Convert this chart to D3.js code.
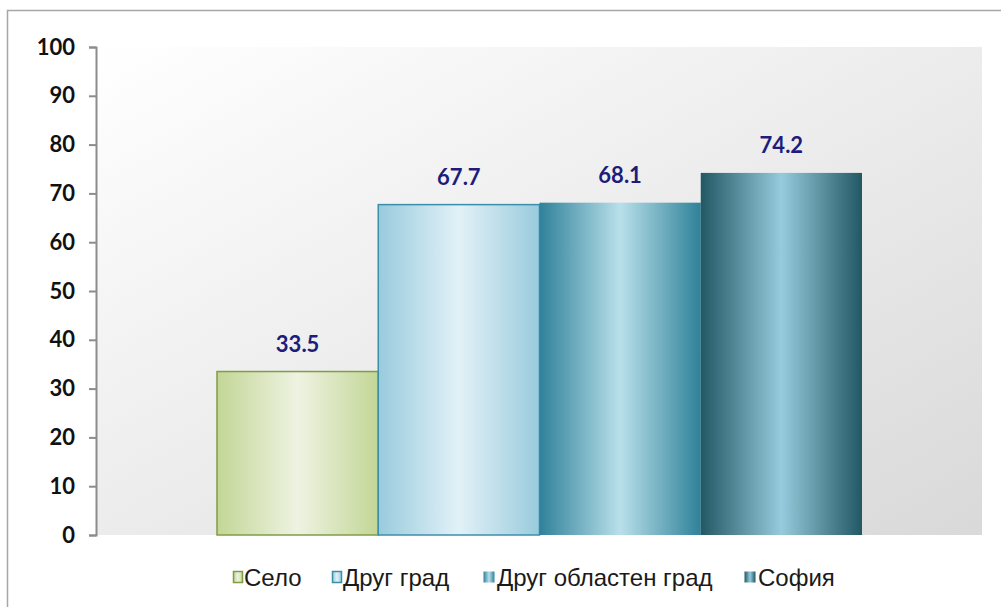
<!DOCTYPE html>
<html>
<head>
<meta charset="utf-8">
<script src="https://cdn.jsdelivr.net/npm/d3@7"></script>
<style>
  body { margin: 0; background: #fff; }
  svg { display: block; }
</style>
</head>
<body>
<svg id="chart"></svg>
<script>
// data
var categories = ["Село", "Друг град", "Друг областен град", "София"];
var values = [33.5, 67.7, 68.1, 74.2];
var yTicks = [0, 10, 20, 30, 40, 50, 60, 70, 80, 90, 100];

// basic settings
var width = 1001, height = 607;
var svg = d3.select("#chart").attr("width", width).attr("height", height);

var plot = {left: 97, right: 982, top: 47, bottom: 535};

var y = d3.scaleLinear().domain([0, 100]).range([plot.bottom, plot.top]);
var x = d3.scaleBand().domain(categories).range([217, 862]).padding(0);

// bar gradients: [edge, center, other edge]
var fills = [
  ["#c3d696", "#eef3e2", "#c3d696"],
  ["#99cbdd", "#e2f1f7", "#99cbdd"],
  ["#2f8199", "#b9e0ea", "#2f8199"],
  ["#225864", "#95cbdc", "#225864"]
];
var strokes = ["#7f9d45", "#3c8fa8", "#2f8199", "#225864"];

var defs = svg.append("defs");
fills.forEach(function(f, i) {
  var g = defs.append("linearGradient").attr("id", "bar" + i)
    .attr("x1", "0").attr("x2", "1").attr("y1", "0").attr("y2", "0");
  g.append("stop").attr("offset", "0%").attr("stop-color", f[0]);
  g.append("stop").attr("offset", "50%").attr("stop-color", f[1]);
  g.append("stop").attr("offset", "100%").attr("stop-color", f[2]);
});
var bg = defs.append("linearGradient").attr("id", "bg")
  .attr("x1", "0").attr("y1", "0").attr("x2", "1").attr("y2", "1");
bg.append("stop").attr("offset", "0%").attr("stop-color", "#ffffff");
bg.append("stop").attr("offset", "100%").attr("stop-color", "#d9d9d9");

// outer frame
svg.append("rect")
  .attr("x", 7.5).attr("y", 10.5)
  .attr("width", 1010).attr("height", 620)
  .attr("fill", "#fff").attr("stroke", "#a6a6a6").attr("stroke-width", 1.5);

// plot background
svg.append("rect")
  .attr("x", plot.left).attr("y", plot.top)
  .attr("width", plot.right - plot.left).attr("height", plot.bottom - plot.top)
  .attr("fill", "url(#bg)");

// bars
svg.selectAll(".bar")
  .data(values)
  .enter().append("rect")
  .attr("class", "bar")
  .attr("x", function(d, i) { return x(categories[i]); })
  .attr("y", function(d) { return y(d); })
  .attr("width", x.bandwidth())
  .attr("height", function(d) { return y(0) - y(d); })
  .attr("fill", function(d, i) { return "url(#bar" + i + ")"; })
  .attr("stroke", function(d, i) { return i < 2 ? strokes[i] : "none"; })
  .attr("stroke-width", 1.5);

// value labels
svg.selectAll(".val")
  .data(values)
  .enter().append("text")
  .attr("class", "val")
  .attr("x", function(d, i) { return x(categories[i]) + x.bandwidth() / 2; })
  .attr("y", function(d) { return y(d) - 20; })
  .attr("text-anchor", "middle")
  .style("font-family", "Lato, 'Open Sans', sans-serif")
  .style("font-weight", "bold")
  .style("font-size", "22px")
  .style("fill", "#1c1c7c")
  .text(function(d) { return d.toFixed(1); });

// y axis
var yAxis = d3.axisLeft(y).tickValues(yTicks).tickSize(7).tickPadding(14);
var ga = svg.append("g")
  .attr("transform", "translate(" + (plot.left - 1) + ",0)")
  .call(yAxis);
ga.select(".domain").attr("stroke", "#8c8c8c").attr("stroke-width", 2);
ga.selectAll(".tick line").attr("stroke", "#8c8c8c").attr("stroke-width", 2);
ga.selectAll(".tick text")
  .style("font-family", "Lato, 'Open Sans', sans-serif")
  .style("font-weight", "bold")
  .style("font-size", "22px")
  .style("fill", "#111");

// legend
var legendX = [233, 332, 483, 744];
var legend = svg.append("g").attr("class", "legend");
legend.selectAll("rect")
  .data(categories)
  .enter().append("rect")
  .attr("x", function(d, i) { return legendX[i] + 0.5; })
  .attr("y", 571.5)
  .attr("width", function(d, i) { return i < 2 ? 9 : 11; })
  .attr("height", 11)
  .attr("fill", function(d, i) { return "url(#bar" + i + ")"; })
  .attr("stroke", function(d, i) { return i < 2 ? strokes[i] : "none"; })
  .attr("stroke-width", 1.5);
legend.selectAll("text")
  .data(categories)
  .enter().append("text")
  .attr("x", function(d, i) { return legendX[i] + (i < 2 ? 11 : 14); })
  .attr("y", 586)
  .style("font-family", "'Liberation Sans', Arial, sans-serif")
  .style("font-size", "24px")
  .style("fill", "#1a1a1a")
  .text(function(d) { return d; });
</script>
</body>
</html>
